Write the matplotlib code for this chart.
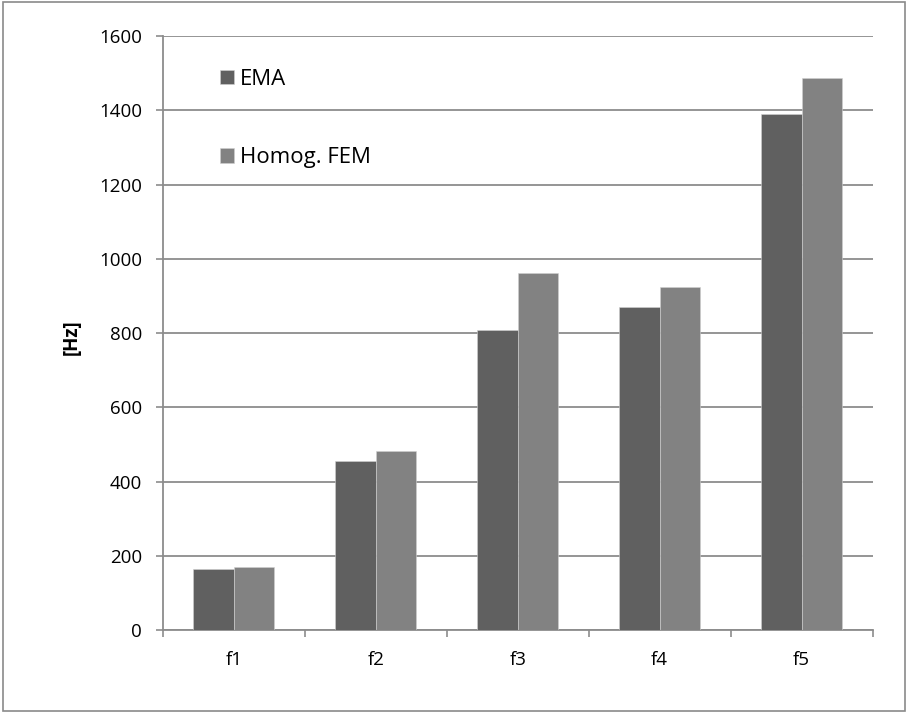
import numpy as np
import matplotlib.pyplot as plt
from matplotlib.patches import Rectangle

plt.rcParams['font.family'] = ['Open Sans', 'DejaVu Sans']

modes = ['f1', 'f2', 'f3', 'f4', 'f5']
ema = [164, 456, 808, 871, 1390]
homog_fem = [171, 483, 961, 924, 1486]

c_ema = '#606060'
c_fem = '#828282'
c_grid = '#8c8c8c'

fig = plt.figure(figsize=(9.08, 7.13), dpi=100)
ax = fig.add_axes([0.1795, 0.1164, 0.7815, 0.8331])

x = np.arange(len(modes))
w = 0.285
ax.bar(x - w / 2, ema, width=w, color=c_ema, edgecolor='#d0d0d0', linewidth=0.4,
       label='EMA', zorder=3)
ax.bar(x + w / 2, homog_fem, width=w, color=c_fem, edgecolor='#d0d0d0', linewidth=0.4,
       label='Homog. FEM', zorder=3)

ax.set_xlim(-0.5, len(modes) - 0.5)
ax.set_ylim(0, 1600)
ax.set_yticks(np.arange(0, 1601, 200))
ax.yaxis.grid(True, color=c_grid, linewidth=1.3, zorder=0)

# category ticks sit between the groups, labels in the middle
ax.set_xticks(np.arange(-0.5, len(modes)), minor=False)
ax.set_xticklabels([])
ax.set_xticks(x, minor=True)
ax.set_xticklabels(modes, minor=True)
ax.tick_params(axis='x', which='major', length=5, width=1.2, color=c_grid)
ax.tick_params(axis='x', which='minor', length=0, pad=15, labelsize=13.5)
ax.tick_params(axis='y', length=5, width=1.2, color=c_grid, pad=10, labelsize=13.5)

for s in ['top', 'right']:
    ax.spines[s].set_visible(False)
for s in ['left', 'bottom']:
    ax.spines[s].set_color(c_grid)
    ax.spines[s].set_linewidth(1.3)

ax.set_ylabel('[Hz]', fontsize=13.5, fontweight='bold')
ax.yaxis.set_label_coords(-0.114, 0.493)

leg = ax.legend(loc='upper left', bbox_to_anchor=(0.0645, 0.9635), frameon=False,
                fontsize=16, handlelength=0.62, handleheight=0.62, borderpad=0,
                handletextpad=0.3, labelspacing=2.58)

fig.patches.append(Rectangle((0.003, 0.003), 0.994, 0.994, transform=fig.transFigure,
                             fill=False, edgecolor='#8a8a8a', linewidth=1.2))

fig.savefig('out.png', dpi=100)
